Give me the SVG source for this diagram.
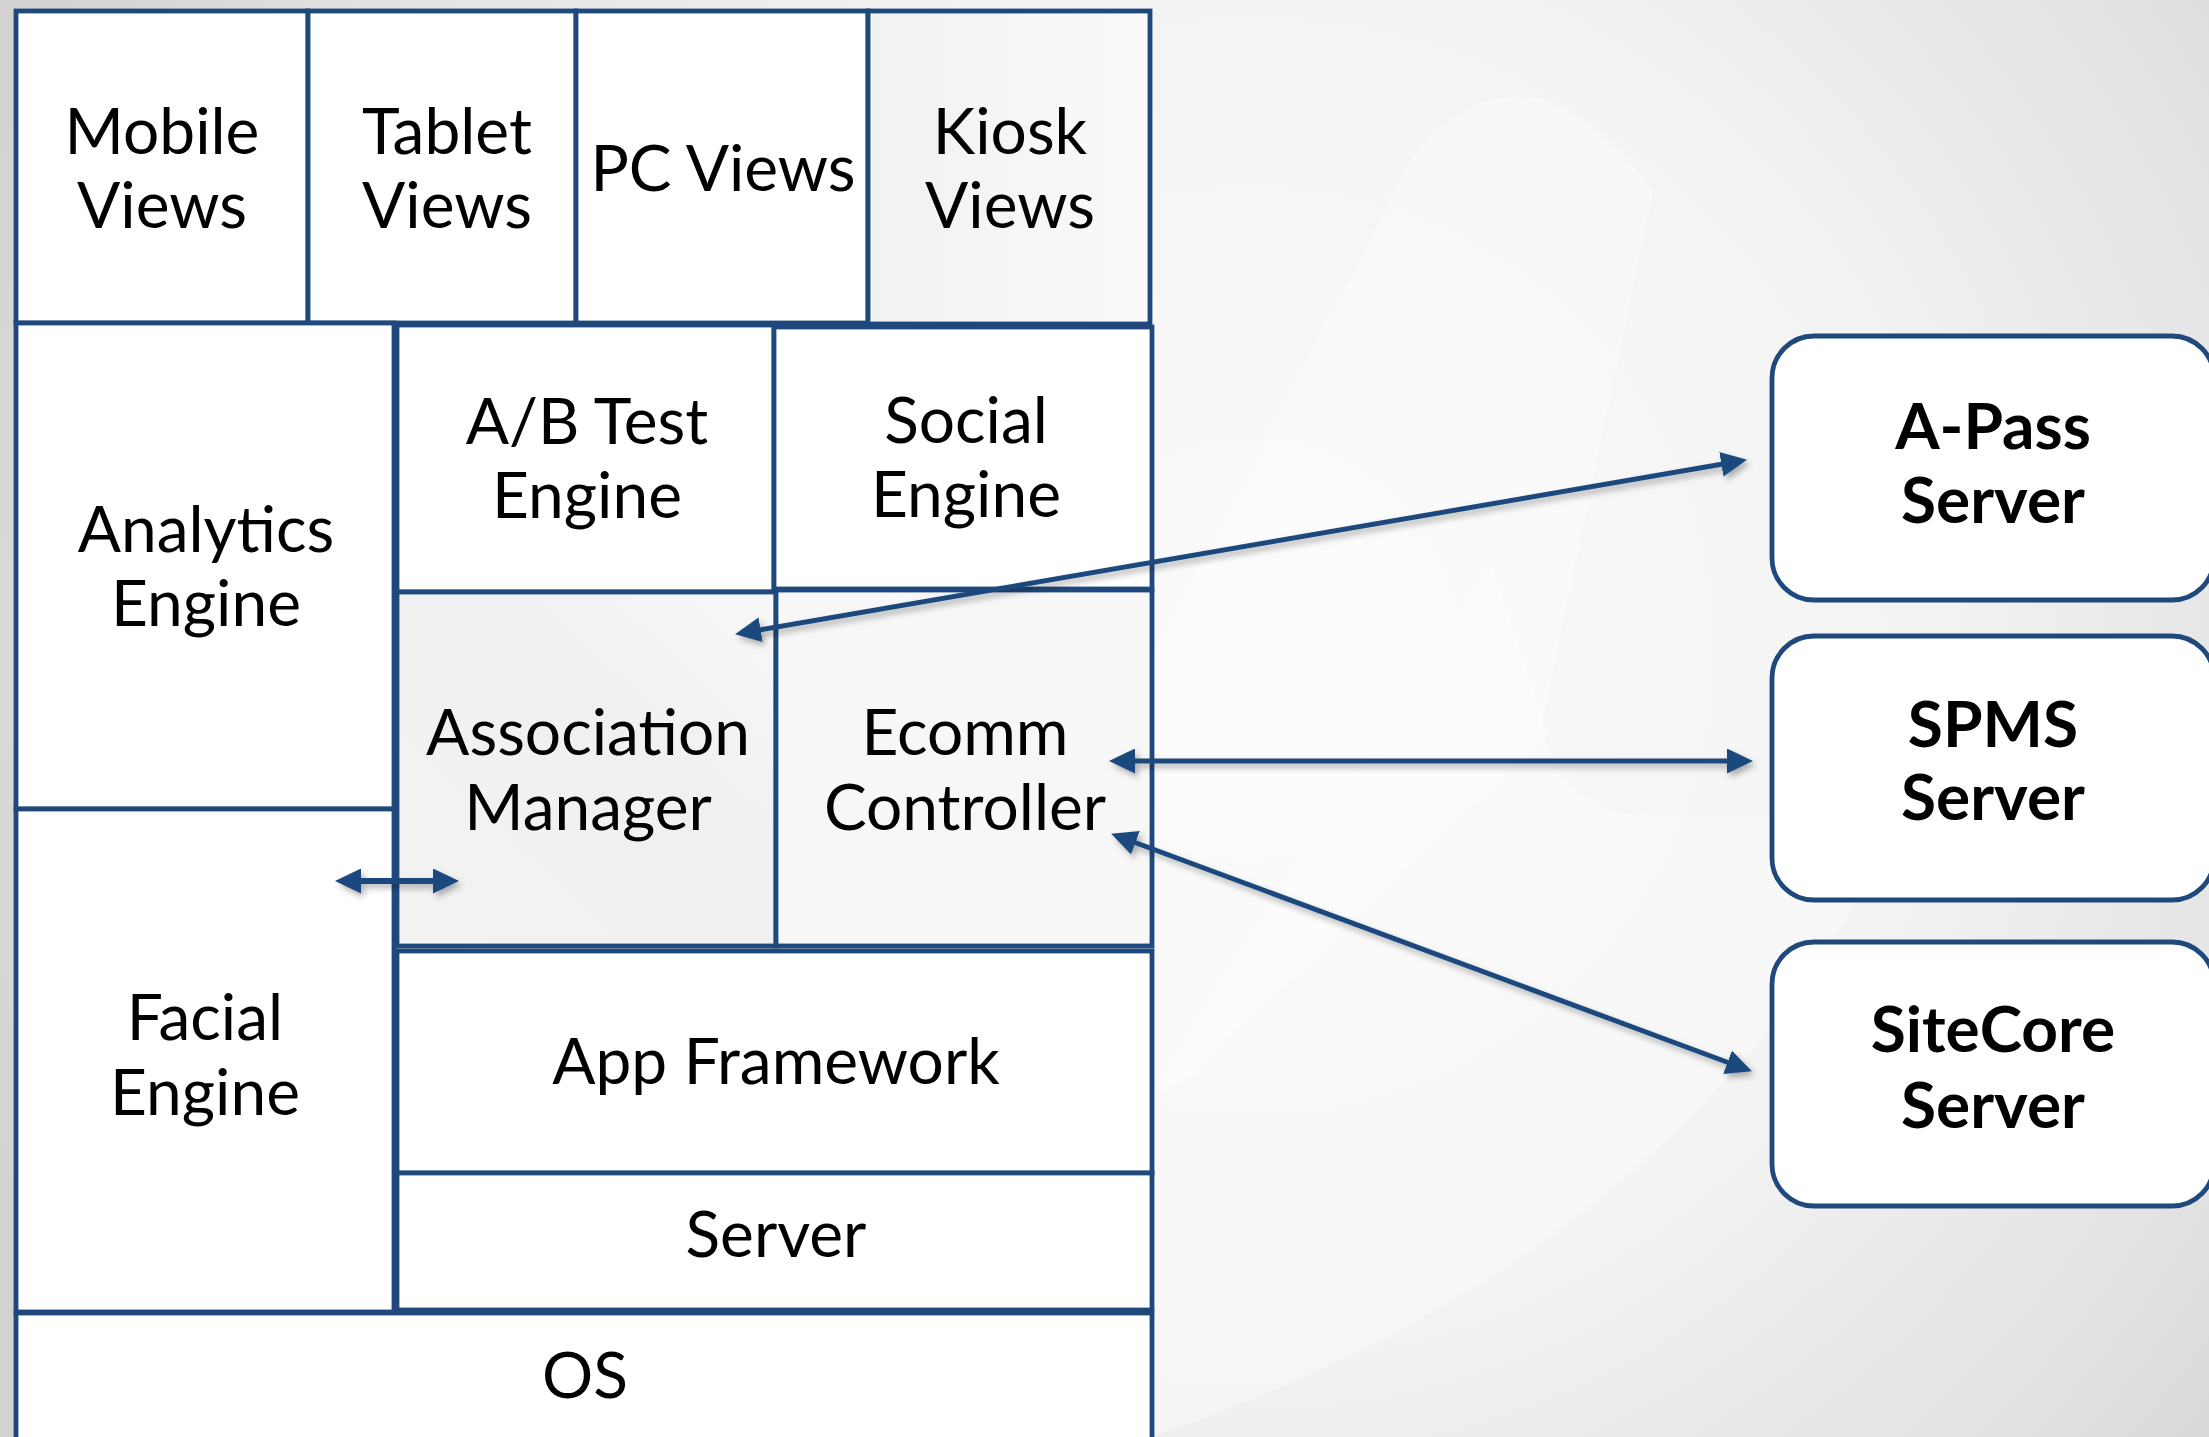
<svg xmlns="http://www.w3.org/2000/svg" width="2209" height="1437" viewBox="0 0 2209 1437">
  <defs>
    <radialGradient id="bg" gradientUnits="userSpaceOnUse" cx="1250" cy="650" r="1350">
      <stop offset="0" stop-color="#fbfbfb"/>
      <stop offset="0.5" stop-color="#f3f3f3"/>
      <stop offset="0.8" stop-color="#e2e2e2"/>
      <stop offset="1" stop-color="#d3d3d3"/>
    </radialGradient>
    <linearGradient id="kioskFill" x1="0" y1="0" x2="1" y2="0">
      <stop offset="0" stop-color="#f1f1f1"/>
      <stop offset="1" stop-color="#fafafa"/>
    </linearGradient>
    <linearGradient id="assocFill" x1="0" y1="1" x2="1" y2="0">
      <stop offset="0" stop-color="#f3f3f3"/>
      <stop offset="0.6" stop-color="#f0f0f0"/>
      <stop offset="1" stop-color="#f8f8f8"/>
    </linearGradient>
    <marker id="head" viewBox="0 0 26 25" markerUnits="userSpaceOnUse" markerWidth="26" markerHeight="25" refX="12" refY="12.5" orient="auto-start-reverse">
      <path d="M0,0 L26,12.5 L0,25 z" fill="#1f497d"/>
    </marker>
    <filter id="shadow" x="-10%" y="-50%" width="120%" height="200%">
      <feDropShadow dx="3" dy="4" stdDeviation="3" flood-color="#000" flood-opacity="0.3"/>
    </filter>
    <style>
      .cell { stroke: #1f497d; stroke-width: 4.8; fill: #ffffff; }
      .ext { stroke: #1f497d; stroke-width: 4.8; fill: #ffffff; }
      .lbl { font-family: "Lato", "Open Sans", sans-serif; font-size: 64px; fill: #000; text-anchor: middle; }
      .bold { font-weight: bold; }
      .conn { stroke: #1f497d; stroke-width: 5; fill: none; marker-start: url(#head); marker-end: url(#head); }
    </style>
  </defs>

  <!-- backdrop with faint logo swoosh -->
  <rect x="0" y="0" width="2209" height="1437" fill="url(#bg)"/>
  <path d="M745 1437 L1413 156 Q1528 20 1653 192 L1542 724 Q1560 816 1663 816 L1900 816 Q1700 1250 1150 1437 Z" fill="#ffffff" opacity="0.35"/>
  <path d="M1491 564 L1548 733 L1231 1036 Q1190 1091 1150 1091 Z" fill="#ffffff" opacity="0.4"/>

  <!-- device views row -->
  <g id="mobile-views">
    <rect class="cell" x="16" y="11" width="292" height="312"/>
    <text class="lbl" x="162" y="154">Mobile</text>
    <text class="lbl" x="162" y="228">Views</text>
  </g>
  <g id="tablet-views">
    <rect class="cell" x="308" y="11" width="268" height="312"/>
    <text class="lbl" x="447" y="154">Tablet</text>
    <text class="lbl" x="447" y="228">Views</text>
  </g>
  <g id="pc-views">
    <rect class="cell" x="576" y="11" width="292" height="312"/>
    <text class="lbl" x="723" y="191">PC Views</text>
  </g>
  <g id="kiosk-views">
    <rect class="cell" x="868" y="11" width="282" height="313" style="fill:url(#kioskFill)"/>
    <text class="lbl" x="1010" y="154">Kiosk</text>
    <text class="lbl" x="1010" y="228">Views</text>
  </g>

  <!-- engines -->
  <g id="analytics-engine">
    <rect class="cell" x="16" y="323" width="378" height="486"/>
    <text class="lbl" x="206" y="552">Analytics</text>
    <text class="lbl" x="206" y="626">Engine</text>
  </g>
  <g id="facial-engine">
    <rect class="cell" x="16" y="809" width="378" height="503"/>
    <text class="lbl" x="205" y="1040">Facial</text>
    <text class="lbl" x="205" y="1115">Engine</text>
  </g>
  <g id="ab-test-engine">
    <rect class="cell" x="397" y="325" width="377" height="267"/>
    <text class="lbl" x="587" y="444">A/B Test</text>
    <text class="lbl" x="587" y="518">Engine</text>
  </g>
  <g id="social-engine">
    <rect class="cell" x="774" y="327" width="378" height="262"/>
    <text class="lbl" x="966" y="443">Social</text>
    <text class="lbl" x="966" y="517">Engine</text>
  </g>
  <g id="association-manager">
    <rect class="cell" x="397" y="592" width="379" height="354" style="fill:url(#assocFill)"/>
    <text class="lbl" x="588" y="755">Association</text>
    <text class="lbl" x="588" y="830">Manager</text>
  </g>
  <g id="ecomm-controller">
    <rect class="cell" x="776" y="590" width="376" height="356" style="fill:#f7f7f7"/>
    <text class="lbl" x="965" y="755">Ecomm</text>
    <text class="lbl" x="965" y="830">Controller</text>
  </g>

  <!-- platform layers -->
  <g id="app-framework">
    <rect class="cell" x="397" y="951" width="755" height="222"/>
    <text class="lbl" x="776" y="1084">App Framework</text>
  </g>
  <g id="server">
    <rect class="cell" x="397" y="1173" width="755" height="137"/>
    <text class="lbl" x="776" y="1257">Server</text>
  </g>
  <g id="os">
    <rect class="cell" x="16" y="1313" width="1136" height="140"/>
    <text class="lbl" x="585" y="1398">OS</text>
  </g>

  <!-- external servers -->
  <g id="a-pass-server">
    <rect class="ext" x="1772" y="336" width="442" height="264" rx="42"/>
    <text class="lbl bold" x="1993" y="449">A-Pass</text>
    <text class="lbl bold" x="1993" y="523">Server</text>
  </g>
  <g id="spms-server">
    <rect class="ext" x="1772" y="636" width="442" height="264" rx="42"/>
    <text class="lbl bold" x="1993" y="747">SPMS</text>
    <text class="lbl bold" x="1993" y="820">Server</text>
  </g>
  <g id="sitecore-server">
    <rect class="ext" x="1772" y="942" width="442" height="264" rx="42"/>
    <text class="lbl bold" x="1993" y="1052">SiteCore</text>
    <text class="lbl bold" x="1993" y="1128">Server</text>
  </g>

  <!-- connectors -->
  <g id="connectors" filter="url(#shadow)">
    <line class="conn" x1="748.8" y1="631.8" x2="1733.2" y2="462.2"/>
    <line class="conn" x1="1123" y1="761" x2="1739" y2="761"/>
    <line class="conn" x1="1124.2" y1="838.5" x2="1738.8" y2="1066.5"/>
    <line class="conn" x1="349" y1="881" x2="445" y2="881" style="stroke-width:6"/>
  </g>
</svg>
